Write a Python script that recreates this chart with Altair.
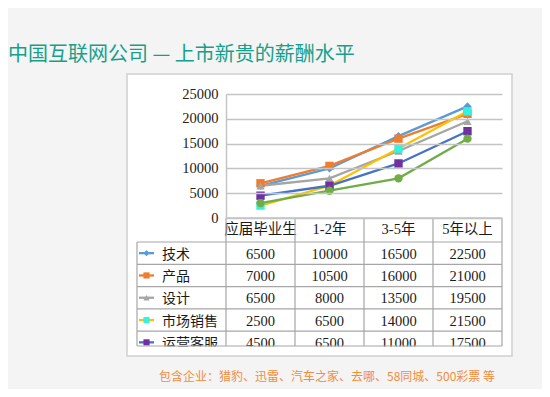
import altair as alt
import pandas as pd

# ---------------- data ----------------
categories = ["应届毕业生", "1-2年", "3-5年", "5年以上"]
series = ["技术", "产品", "设计", "市场销售", "运营客服", "职能"]
values = {
    "技术": [6500, 10000, 16500, 22500],
    "产品": [7000, 10500, 16000, 21000],
    "设计": [6500, 8000, 13500, 19500],
    "市场销售": [2500, 6500, 14000, 21500],
    "运营客服": [4500, 6500, 11000, 17500],
    "职能": [3000, 5500, 8000, 16000],
}
table_rows = ["技术", "产品", "设计", "市场销售", "运营客服"]
y_ticks = [0, 5000, 10000, 15000, 20000, 25000]
line_colors = ["#5b9bd5", "#ed7d31", "#a5a5a5", "#ffc000", "#4472c4", "#70ad47"]
marker_fills = ["#5b9bd5", "#ed7d31", "#a5a5a5", "#33f2e0", "#7030a0", "#70ad47"]
marker_shapes = ["diamond", "square", "triangle-up", "square", "square", "circle"]
title_text = "中国互联网公司 — 上市新贵的薪酬水平"
foot_text = "包含企业：猎豹、迅雷、汽车之家、去哪、58同城、500彩票 等"

rows = []
for s in series:
    for c, v in zip(categories, values[s]):
        rows.append({"series": s, "cat": c, "value": v})
df = pd.DataFrame(rows)
df["label"] = df["value"].astype(int).astype(str)
tdf = df[df["series"].isin(table_rows)]
hdr = pd.DataFrame({"cat": categories})
one = pd.DataFrame({"k": [0]})

# ---------------- layout ----------------
W, H = 276, 124
ROW_TOP, ROW_H = 148, 22.3
TABLE_BOTTOM = 252
TABLE_LEFT = -89
n_rows = len(table_rows)
bw = W / len(categories)

CJK = "Noto Sans CJK SC"
SERIF_CJK = "Liberation Serif, Noto Sans CJK SC"
GRID_C = "#c4c4c4"
TAB_C = "#a6a6a6"

xs = alt.X("cat:N", sort=categories, axis=None,
           scale=alt.Scale(type="point", domain=categories, padding=0.5))
color = alt.Color("series:N", legend=None,
                  scale=alt.Scale(domain=series, range=line_colors))
fill = alt.Fill("series:N", legend=None,
                scale=alt.Scale(domain=series, range=marker_fills))
shape = alt.Shape("series:N", legend=None,
                  scale=alt.Scale(domain=series, range=marker_shapes))

# white box
box = alt.Chart(one).mark_rect(fill="white", stroke="#cfcfcf", strokeWidth=1.5).encode(
    x=alt.value(-99), x2=alt.value(286), y=alt.value(-20), y2=alt.value(262))

# plot
ys = alt.Y("value:Q", title=None,
           scale=alt.Scale(domain=[0, 25000], nice=False),
           axis=alt.Axis(orient="left", zindex=1, values=y_ticks, format="d", grid=True,
                         gridColor=GRID_C, gridWidth=1.5,
                         ticks=False, domain=True, domainColor=GRID_C, domainWidth=1.5,
                         labelPadding=8, labelFont="Liberation Serif", labelFontSize=14.5,
                         labelColor="#222222"))
lines = alt.Chart(df).mark_line(strokeWidth=2.3).encode(x=xs, y=ys, color=color,
                                                         detail="series:N")
points = alt.Chart(df).mark_point(filled=True, size=70, opacity=1).encode(
    x=xs, y=ys, fill=fill, shape=shape)
plot = alt.layer(lines, points)

# table
ty = alt.Y("series:N", axis=None,
           scale=alt.Scale(type="band", domain=table_rows,
                           range=[ROW_TOP, ROW_TOP + n_rows * ROW_H],
                           paddingInner=0, paddingOuter=0))
nums = alt.Chart(tdf).mark_text(font="Liberation Serif", fontSize=14.5, color="#1a1a1a",
                                baseline="middle", dy=1.5).encode(x=xs, y=ty, text="label:N")
names = alt.Chart(pd.DataFrame({"series": table_rows})).mark_text(
    font=CJK, fontSize=14, color="#1a1a1a", align="left", baseline="middle", dy=1.5).encode(
    x=alt.value(-64), y=ty, text="series:N")
key_lines = alt.Chart(pd.DataFrame({"series": table_rows})).mark_rule(strokeWidth=2.3).encode(
    x=alt.value(-87), x2=alt.value(-72), y=ty, color=color)
key_pts = alt.Chart(pd.DataFrame({"series": table_rows})).mark_point(
    filled=True, size=38, opacity=1).encode(x=alt.value(-79.5), y=ty, fill=fill, shape=shape)
table = alt.layer(key_lines, key_pts, names, nums)

header = alt.Chart(hdr).mark_text(font=SERIF_CJK, fontSize=14.5, color="#1a1a1a",
                                  baseline="middle").encode(
    x=xs, y=alt.value(136), text="cat:N")

# cover to clip the table
cover = alt.Chart(one).mark_rect(fill="white").encode(
    x=alt.value(-98), x2=alt.value(285), y=alt.value(252.5), y2=alt.value(261))

# table grid lines (layout)
h_y = [H, ROW_TOP] + [ROW_TOP + ROW_H * (i + 1) for i in range(n_rows - 1)] + [TABLE_BOTTOM]
h_x1 = [0] + [TABLE_LEFT] * (len(h_y) - 1)
hl = pd.DataFrame({"y": h_y, "x1": h_x1, "x2": [W] * len(h_y)})
hlines = alt.Chart(hl).mark_rule(color=TAB_C, strokeWidth=1.2).encode(
    x=alt.X("x1:Q", scale=None), x2="x2:Q", y=alt.Y("y:Q", scale=None))
v_x = [TABLE_LEFT] + [bw * i for i in range(len(categories) + 1)]
v_y1 = [ROW_TOP] + [H] * (len(categories) + 1)
vl = pd.DataFrame({"x": v_x, "y1": v_y1, "y2": [TABLE_BOTTOM] * len(v_x)})
vlines = alt.Chart(vl).mark_rule(color=TAB_C, strokeWidth=1.2).encode(
    x=alt.X("x:Q", scale=None), y=alt.Y("y1:Q", scale=None), y2="y2:Q")

title = alt.Chart(one).mark_text(text=title_text, font=CJK, fontSize=20, color="#16a08b",
                                 align="left", baseline="middle").encode(
    x=alt.value(-218), y=alt.value(-39))
foot = alt.Chart(one).mark_text(text=foot_text, font=CJK, fontSize=12, color="#f28c3c",
                                align="left", baseline="middle").encode(
    x=alt.value(-67), y=alt.value(283))

chart = alt.layer(box, plot, table, header, cover, hlines, vlines, title, foot).resolve_scale(
    x="independent", y="independent").properties(
    width=W, height=H,
    padding={"left": 218, "top": 86, "right": 40, "bottom": 171},
    autosize=alt.AutoSizeParams(type="none"),
).configure(background="#f4f4f4").configure_view(stroke=None)

chart.save("out.html", embed_options={"renderer": "svg", "actions": False})
